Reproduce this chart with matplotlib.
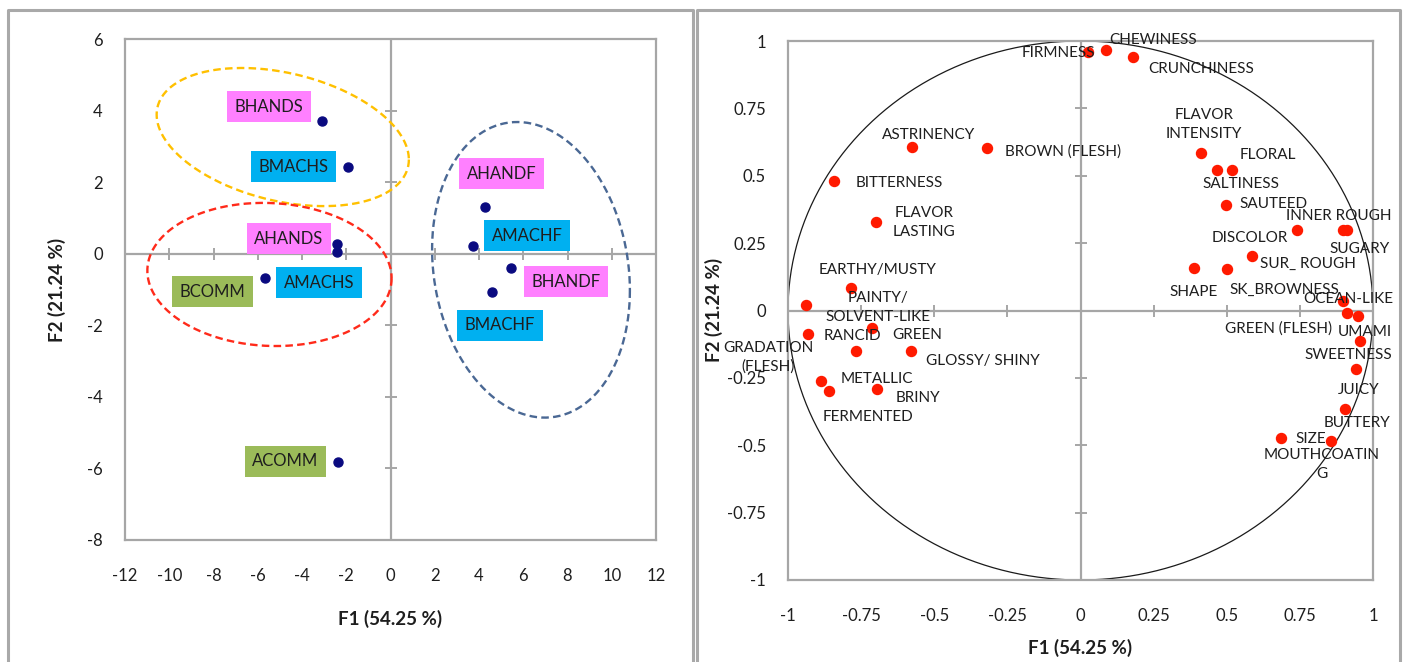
import numpy as np
import matplotlib
matplotlib.use("Agg")
import matplotlib.pyplot as plt
from matplotlib.lines import Line2D

plt.rcParams["font.family"] = ["Lato", "DejaVu Sans"]

# ---------------- observations (F1/F2 scores) ----------------
obs_names = ["BHANDS", "BMACHS", "AHANDS", "AMACHS", "BCOMM", "ACOMM",
             "AHANDF", "AMACHF", "BHANDF", "BMACHF"]
obs_f1 = [-3.11, -1.94, -2.40, -2.40, -5.66, -2.38, 4.28, 3.72, 5.45, 4.57]
obs_f2 = [3.71, 2.43, 0.28, 0.05, -0.68, -5.81, 1.31, 0.21, -0.40, -1.07]
obs_group = ["hand", "mach", "hand", "mach", "comm", "comm",
             "hand", "mach", "hand", "mach"]
# label box centres (data units)
obs_label_xy = [(-5.5, 4.10), (-4.4, 2.43), (-4.6, 0.42), (-3.24, -0.81),
                (-8.03, -1.06), (-4.76, -5.8), (5.03, 2.23), (6.17, 0.5),
                (7.93, -0.78), (4.95, -2.0)]

# cluster ellipses: centre, radii, phase
clusters = [
    dict(cx=-4.87, cy=3.26, rx=5.70, ry=1.93, phi=109, color="#FFC000"),
    dict(cx=-5.47, cy=-0.58, rx=5.52, ry=2.00, phi=93, color="#FF2A1A"),
    dict(cx=6.35, cy=-0.45, rx=4.47, ry=4.13, phi=98, color="#4A6894"),
]

# ---------------- variables (correlation circle) ----------------
var_names = ["FIRMNESS", "CHEWINESS", "CRUNCHINESS", "FLAVOR\nINTENSITY",
             "SALTINESS", "FLORAL", "SAUTEED", "DISCOLOR", "INNER ROUGH",
             "SUGARY", "SUR_ ROUGH", "SHAPE", "SK_BROWNESS", "OCEAN-LIKE",
             "GREEN (FLESH)", "UMAMI", "SWEETNESS", "JUICY", "BUTTERY",
             "MOUTHCOATIN\nG", "SIZE", "ASTRINENCY", "BROWN (FLESH)",
             "BITTERNESS", "FLAVOR\nLASTING", "EARTHY/MUSTY",
             "GLOSSY/ SHINY", "PAINTY/\nSOLVENT-LIKE", "GRADATION\n(FLESH)",
             "RANCID", "GREEN", "METALLIC", "FERMENTED", "BRINY"]
var_f1 = [0.026, 0.088, 0.180, 0.411, 0.465, 0.519, 0.496, 0.741, 0.898,
          0.912, 0.587, 0.387, 0.502, 0.896, 0.910, 0.948, 0.957, 0.943,
          0.904, 0.857, 0.687, -0.575, -0.320, -0.844, -0.698, -0.783,
          -0.940, -0.712, -0.932, -0.769, -0.579, -0.886, -0.860, -0.695]
var_f2 = [0.959, 0.968, 0.941, 0.585, 0.520, 0.523, 0.390, 0.297, 0.300,
          0.297, 0.203, 0.156, 0.153, 0.037, -0.009, -0.022, -0.115, -0.218,
          -0.366, -0.483, -0.473, 0.606, 0.603, 0.480, 0.329, 0.083,
          0.019, -0.066, -0.088, -0.152, -0.150, -0.260, -0.298, -0.290]
# text centres (data units)
var_label_xy = [(-0.074, 0.957), (0.247, 1.005), (0.411, 0.896), (0.421, 0.69),
                (0.550, 0.470), (0.639, 0.578), (0.659, 0.394), (0.578, 0.269),
                (0.883, 0.349), (0.955, 0.230), (0.778, 0.173), (0.388, 0.068),
                (0.696, 0.077), (0.917, 0.041), (0.678, -0.066), (0.971, -0.078),
                (0.917, -0.165), (0.951, -0.295), (0.945, -0.418), (0.824, -0.573),
                (0.786, -0.478), (-0.521, 0.653), (-0.059, 0.590), (-0.621, 0.473),
                (-0.535, 0.325), (-0.693, 0.151), (-0.334, -0.189), (-0.693, 0.011),
                (-1.068, -0.174), (-0.781, -0.094), (-0.559, -0.090),
                (-0.696, -0.254), (-0.727, -0.394), (-0.555, -0.323)]

left_xticks = list(range(-12, 13, 2))
left_yticks = list(range(-8, 7, 2))
right_ticks = [-1, -0.75, -0.5, -0.25, 0, 0.25, 0.5, 0.75, 1]
right_ticklabels = ["-1", "-0.75", "-0.5", "-0.25", "0", "0.25", "0.5", "0.75", "1"]

W, H = 1406, 662
fig = plt.figure(figsize=(W / 100, H / 100), dpi=100)

def fx(px):
    return px / W

def fy(py):
    return 1 - py / H

GRID = "#A6A6A6"
TXT = "#1E1E1E"

# panel frames
frame_kw = dict(color="#A9A9A9", lw=2.2, transform=fig.transFigure, clip_on=False)
for xs, ys in [([8, 8, 693, 693], [H + 5, 10, 10, H + 5]),
               ([697, 697, 1400, 1400], [H + 5, 10, 10, H + 5])]:
    fig.add_artist(Line2D([fx(v) for v in xs], [fy(v) for v in ys], **frame_kw))


def style_axes(ax, xticks, yticks, xlabels, ylabels, xpad, ypad, tick_half):
    for s in ax.spines.values():
        s.set_color(GRID)
        s.set_linewidth(1.6)
    ax.set_xticks(xticks, xlabels)
    ax.set_yticks(yticks, ylabels)
    ax.tick_params(axis="x", length=0, pad=xpad, labelsize=12, labelcolor=TXT)
    ax.tick_params(axis="y", length=0, pad=ypad, labelsize=12, labelcolor=TXT)
    ax.axhline(0, color=GRID, lw=1.6, zorder=1)
    ax.axvline(0, color=GRID, lw=1.6, zorder=1)
    # tick marks sitting on the zero lines
    ax.plot(xticks, [0] * len(xticks), ls="none", marker="|", ms=tick_half,
            mew=1.4, color=GRID, zorder=1, clip_on=False)
    ax.plot([0] * len(yticks), yticks, ls="none", marker="_", ms=tick_half,
            mew=1.4, color=GRID, zorder=1, clip_on=False)


# ---------------- left: observations ----------------
axL = fig.add_axes([fx(125), fy(540), fx(656) - fx(125), fy(39) - fy(540)])
axL.set_xlim(-12, 12)
axL.set_ylim(-8, 6)
style_axes(axL, left_xticks, left_yticks,
           [str(v) for v in left_xticks], [str(v) for v in left_yticks],
           xpad=20, ypad=16, tick_half=8)

t = np.linspace(0, 2 * np.pi, 400)
for c in clusters:
    ph = np.deg2rad(c["phi"])
    axL.plot(c["cx"] + c["rx"] * np.cos(t), c["cy"] + c["ry"] * np.cos(t + ph),
             color=c["color"], lw=1.7, ls=(0, (3.2, 1.8)), zorder=2)

axL.plot(obs_f1, obs_f2, ls="none", marker="o", ms=6.5, color="#0A0A80", zorder=4)

box_colors = {"hand": "#FF80FF", "mach": "#00B0F0", "comm": "#9BBB59"}
for name, grp, (lx, ly) in zip(obs_names, obs_group, obs_label_xy):
    axL.text(lx, ly, name, ha="center", va="center", fontsize=12, color=TXT,
             zorder=5,
             bbox=dict(boxstyle="square,pad=0.45", fc=box_colors[grp], ec="none"))

fig.text(fx(390), fy(619), "F1 (54.25 %)", ha="center", va="center",
         fontsize=13.5, fontweight="bold", color=TXT)
fig.text(fx(57), fy(290), "F2 (21.24 %)", ha="center", va="center",
         rotation=90, fontsize=13.5, fontweight="bold", color=TXT)

# ---------------- right: correlation circle ----------------
axR = fig.add_axes([fx(788), fy(580), fx(1373) - fx(788), fy(41) - fy(580)])
axR.set_xlim(-1, 1)
axR.set_ylim(-1, 1)
style_axes(axR, right_ticks, right_ticks, right_ticklabels, right_ticklabels,
           xpad=20, ypad=16, tick_half=8)

axR.plot(np.cos(t), np.sin(t), color="#1A1A1A", lw=0.9, zorder=2)
axR.plot(var_f1, var_f2, ls="none", marker="o", ms=7.2, color="#FF1A00", zorder=4)
for name, (lx, ly) in zip(var_names, var_label_xy):
    axR.text(lx, ly, name, ha="center", va="center", fontsize=11, color=TXT,
             linespacing=1.45, zorder=5, clip_on=False)

fig.text(fx(1080), fy(648), "F1 (54.25 %)", ha="center", va="center",
         fontsize=13.5, fontweight="bold", color=TXT)
fig.text(fx(714), fy(310), "F2 (21.24 %)", ha="center", va="center",
         rotation=90, fontsize=13.5, fontweight="bold", color=TXT)

fig.savefig("out.png", dpi=100, facecolor="white")
